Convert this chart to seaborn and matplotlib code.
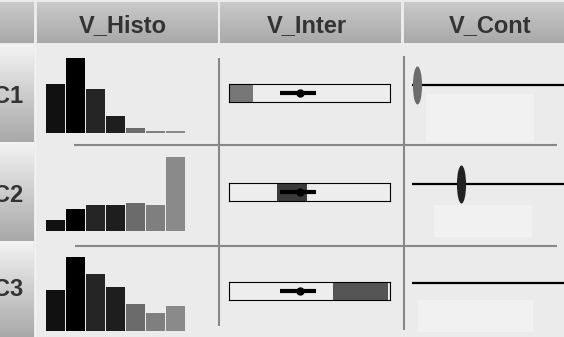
import numpy as np
import pandas as pd
import matplotlib
matplotlib.use("Agg")
import matplotlib.pyplot as plt
import seaborn as sns
from matplotlib.path import Path
from matplotlib.markers import MarkerStyle
from matplotlib.patches import Rectangle
from matplotlib.transforms import Affine2D

# ---------------- data ----------------
rows = ["C1", "C2", "C3"]
columns = ["V_Histo", "V_Inter", "V_Cont"]

hist_bins = ["b1", "b2", "b3", "b4", "b5", "b6", "b7"]
hist_c1 = [49, 75, 44, 17, 5, 2, 2]
hist_c2 = [11, 22, 26, 26, 28, 26, 74]
hist_c3 = [41, 74, 57, 44, 27, 18, 25]
hist_colors = ["#111111", "#000000", "#252525", "#1e1e1e", "#6b6b6b", "#7f7f7f", "#8a8a8a"]

inter_fill_lo = [0.0, 29.9, 64.3]
inter_fill_hi = [14.6, 48.2, 98.7]
inter_fill_colors = ["#777777", "#3a3a3a", "#555555"]
inter_lo = [31.5, 31.5, 31.5]
inter_hi = [54.0, 54.0, 54.0]
inter_mid = [43.8, 43.8, 43.8]

cont_pos = [3.5, 32.4, np.nan]
cont_colors = ["#6b6b6b", "#222222", "#222222"]

# ---------------- figure ----------------
W, H = 564, 337
sns.set_theme(style="white")
plt.rcParams["font.family"] = ["Liberation Sans", "DejaVu Sans"]

fig = plt.figure(figsize=(W / 100, H / 100), dpi=100, facecolor="#ebebeb")


def ax_px(x0, y0, x1, y1, **kw):
    return fig.add_axes([x0 / W, 1 - y1 / H, (x1 - x0) / W, (y1 - y0) / H], **kw)


# overlay for table decoration (pixel coordinates)
ov = ax_px(0, 0, W, H)
ov.set_xlim(0, W)
ov.set_ylim(H, 0)
ov.axis("off")
ov.set_zorder(0)


def gradient(x0, x1, y0, y1, top, bottom):
    g = np.linspace(top, bottom, 64).reshape(-1, 1)
    ov.imshow(g, cmap="gray", vmin=0, vmax=1, extent=(x0, x1, y1, y0),
              origin="upper", aspect="auto", interpolation="bilinear", zorder=1)


# header cells
header_cells = [(0, 34), (36.5, 217.5), (220, 401), (403.5, 566)]
for x0, x1 in header_cells:
    gradient(x0, x1, 2, 43, 0.79, 0.66)
header_x = [123, 307, 490]
for name, xc in zip(columns, header_x):
    ov.text(xc, 32, name, ha="center", va="baseline", fontsize=17,
            fontweight="bold", color="#333333", zorder=3)

# row header cells
row_cells = [(45, 142), (142, 241), (241, 338)]
row_base = [103, 202, 296]
for (y0, y1), lab, yb in zip(row_cells, rows, row_base):
    gradient(0, 34, y0, y1, 0.95, 0.66)
    ov.text(23.5, yb, lab, ha="right", va="baseline", fontsize=17,
            fontweight="bold", color="#333333", zorder=3)
ov.plot([34.5, 34.5], [45, 337], color="#f3f3f3", lw=0.8, zorder=2)

# grid lines
gc = "#888888"
ov.plot([218.5, 218.5], [58, 326], color=gc, lw=1.5, zorder=2, solid_capstyle="butt")
ov.plot([404, 404], [56, 330], color=gc, lw=1.5, zorder=2, solid_capstyle="butt")
ov.plot([74, 557], [145, 145], color=gc, lw=1.5, zorder=2, solid_capstyle="butt")
ov.plot([75, 557], [246, 246], color=gc, lw=1.5, zorder=2, solid_capstyle="butt")

# light placeholder boxes in V_Cont column
for x0, y0, x1, y1 in [(426, 94, 534, 142), (434, 205, 532, 237), (418, 300, 533, 332)]:
    ov.add_patch(Rectangle((x0, y0), x1 - x0, y1 - y0, facecolor="#f1f1f1",
                           edgecolor="none", zorder=1.5))

# ---------------- V_Histo ----------------
hist_base = [132.5, 231, 330.5]
for vals, base in zip([hist_c1, hist_c2, hist_c3], hist_base):
    ax = ax_px(45.5, base - 75, 185.5, base)
    ax.set_zorder(2)
    df = pd.DataFrame({"bin": hist_bins, "count": vals})
    sns.barplot(data=df, x="bin", y="count", hue="bin", palette=hist_colors,
                legend=False, ax=ax, width=0.95, saturation=1, linewidth=0)
    ax.set_xlim(-0.5, 6.5)
    ax.set_ylim(0, 75)
    ax.axis("off")

# ---------------- V_Inter ----------------
box_y = [(84.3, 102.3), (183.3, 201.3), (282.3, 300.3)]
for i, (y0, y1) in enumerate(box_y):
    ax = ax_px(229.3, y0, 390, y1)
    ax.set_zorder(2)
    ax.set_facecolor("#ededed")
    ax.set_xlim(0, 100)
    ax.set_ylim(0, 1)
    ax.axvspan(inter_fill_lo[i], inter_fill_hi[i], color=inter_fill_colors[i], lw=0)
    ax.hlines(0.5, inter_lo[i], inter_hi[i], color="black", lw=3)
    sns.scatterplot(x=[inter_mid[i]], y=[0.5], color="black", s=36, linewidth=0,
                    ax=ax, zorder=3)
    ax.set_xticks([])
    ax.set_yticks([])
    ax.set_xlabel("")
    ax.set_ylabel("")
    for sp in ax.spines.values():
        sp.set_visible(True)
        sp.set_color("black")
        sp.set_linewidth(0.8)

# ---------------- V_Cont ----------------
circ = Path.unit_circle()
ell_path = circ.transformed(Affine2D().scale(0.24, 1.0))
ell_marker = MarkerStyle(ell_path)
line_y = [84.7, 183.7, 282.7]
for i, yc in enumerate(line_y):
    ax = ax_px(412, yc - 25, 566, yc + 25)
    ax.set_zorder(2)
    ax.patch.set_alpha(0)
    ax.set_xlim(0, 101.3)
    ax.set_ylim(-1, 1)
    ax.axhline(0, color="black", lw=1.6)
    if not np.isnan(cont_pos[i]):
        sns.scatterplot(x=[cont_pos[i]], y=[0.0], marker=ell_marker, s=750,
                        color=cont_colors[i], linewidth=0, ax=ax, zorder=3)
    ax.axis("off")

fig.savefig("out.png", dpi=100, facecolor=fig.get_facecolor())
